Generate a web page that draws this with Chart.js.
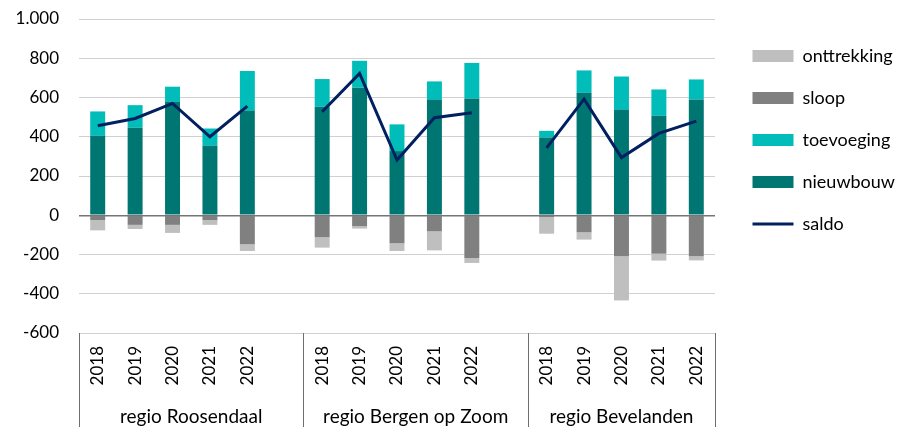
<!DOCTYPE html>
<html>
<head>
<meta charset="utf-8">
<script src="https://cdn.jsdelivr.net/npm/chart.js@4.4.0/dist/chart.umd.min.js"></script>
<style>
html,body{margin:0;padding:0;background:#fff;}
canvas{display:block;}
</style>
</head>
<body>
<canvas id="c" width="905" height="427"></canvas>
<script>
// ---- data ----
const regions = ['regio Roosendaal', 'regio Bergen op Zoom', 'regio Bevelanden'];
const years = ['2018', '2019', '2020', '2021', '2022'];
// one empty slot after each region except the last (null = no value)
const nieuwbouw   = [405, 446, 578, 354, 532, null, 553, 650, 327, 588, 595, null, 396, 624, 537, 507, 590];
const toevoeging  = [124, 115,  77,  88, 203, null, 141, 137, 136,  94, 181, null,  34, 114, 170, 134, 102];
const sloop       = [-25, -49, -49, -25, -148, null, -112, -56, -143, -82, -218, null, -9, -87, -209, -196, -209];
const onttrekking = [-52, -21, -41, -24, -34, null, -53, -12, -39, -97, -25, null, -85, -37, -225, -35, -21];
const saldo       = [456, 493, 570, 400, 556, null, 527, 723, 281, 497, 522, null, 343, 592, 294, 417, 480];
const yMin = -600, yMax = 1000, yStep = 200;

// ---- labels built from years/regions ----
const labels = [];
const groups = [];
regions.forEach((r, gi) => {
  const start = labels.length;
  years.forEach(y => labels.push(y));
  if (gi < regions.length - 1) labels.push('');
  groups.push({ name: r, start: start, end: labels.length - 1 });
});

function fmtNL(v) {
  const s = String(Math.abs(v)).replace(/\B(?=(\d{3})+(?!\d))/g, '.');
  return (v < 0 ? '-' : '') + s;
}

Chart.defaults.font.family = 'Lato';
Chart.defaults.color = '#000';

const legendRank = [3, 2, 1, 0, 4];

const groupPlugin = {
  id: 'groupAxis',
  afterDraw(chart) {
    const x = chart.scales.x;
    const ctx = chart.ctx;
    const half = (x.getPixelForValue(1) - x.getPixelForValue(0)) / 2;
    const top = chart.chartArea.bottom;
    const bottom = chart.height;
    ctx.save();
    ctx.strokeStyle = '#6f6f6f';
    ctx.lineWidth = 1;
    const lines = [];
    groups.forEach((g, i) => {
      const l = x.getPixelForValue(g.start) - half;
      const r = x.getPixelForValue(g.end) + half;
      if (i === 0) lines.push(l);
      lines.push(r);
      ctx.fillStyle = '#000';
      ctx.font = '19px Lato';
      ctx.textAlign = 'center';
      ctx.textBaseline = 'alphabetic';
      ctx.fillText(g.name, (l + r) / 2, 423);
    });
    lines.forEach(px => {
      const p = Math.round(px) + 0.5;
      ctx.beginPath();
      ctx.moveTo(p, top);
      ctx.lineTo(p, bottom);
      ctx.stroke();
    });
    ctx.restore();
  }
};

new Chart(document.getElementById('c'), {
  data: {
    labels: labels,
    datasets: [
      { type: 'bar', label: 'nieuwbouw', data: nieuwbouw, backgroundColor: '#007672', order: 1 },
      { type: 'bar', label: 'toevoeging', data: toevoeging, backgroundColor: '#00bdb9', order: 1 },
      { type: 'bar', label: 'sloop', data: sloop, backgroundColor: '#808080', order: 1 },
      { type: 'bar', label: 'onttrekking', data: onttrekking, backgroundColor: '#bfbfbf', order: 1 },
      { type: 'line', label: 'saldo', data: saldo, borderColor: '#002060', backgroundColor: '#002060',
        borderWidth: 3, pointRadius: 0, tension: 0, spanGaps: false, stack: 'saldo', order: 0 }
    ]
  },
  options: {
    responsive: false,
    animation: false,
    layout: { padding: { top: 19, right: 0, bottom: 0, left: 0 } },
    datasets: { bar: { barPercentage: 0.4, categoryPercentage: 1.0 } },
    scales: {
      x: {
        stacked: true,
        grid: { display: false, drawTicks: false },
        border: { display: false },
        ticks: { autoSkip: false, minRotation: 90, maxRotation: 90, padding: 13, font: { size: 17 } },
        afterFit(s) { s.height = 94; }
      },
      y: {
        stacked: true,
        min: yMin, max: yMax,
        ticks: { stepSize: yStep, padding: 0, font: { size: 17 }, callback: v => fmtNL(v) },
        grid: {
          drawTicks: true,
          tickLength: 20,
          tickColor: 'rgba(0,0,0,0)',
          color: c => (c.tick && c.tick.value === 0 ? '#767676' : '#d0d0d0'),
          lineWidth: c => (c.tick && c.tick.value === 0 ? 1.5 : 1)
        },
        border: { display: false },
        afterFit(s) { s.width = 79; }
      },
      yR: {
        position: 'right',
        display: false,
        afterFit(s) {
          const lw = s.chart.legend ? s.chart.legend.width : 0;
          s.width = Math.max(0, 190 - lw);
        }
      }
    },
    plugins: {
      tooltip: { enabled: false },
      legend: {
        position: 'right',
        align: 'start',
        title: { display: true, text: ' ', font: { size: 4, lineHeight: 1 }, padding: 0 },
        labels: {
          usePointStyle: true,
          pointStyleWidth: 41,
          boxHeight: 12,
          padding: 24,
          color: '#000',
          font: { size: 18 },
          sort: (a, b) => legendRank[a.datasetIndex] - legendRank[b.datasetIndex],
          generateLabels(chart) {
            const items = Chart.defaults.plugins.legend.labels.generateLabels(chart);
            items.forEach(it => {
              const ds = chart.data.datasets[it.datasetIndex];
              if (ds.type === 'line') {
                it.pointStyle = 'line';
                it.strokeStyle = ds.borderColor;
                it.lineWidth = 3;
              } else {
                it.pointStyle = 'rect';
                it.fillStyle = ds.backgroundColor;
                it.strokeStyle = ds.backgroundColor;
                it.lineWidth = 0;
              }
            });
            return items;
          }
        }
      }
    }
  },
  plugins: [groupPlugin]
});
</script>
</body>
</html>
